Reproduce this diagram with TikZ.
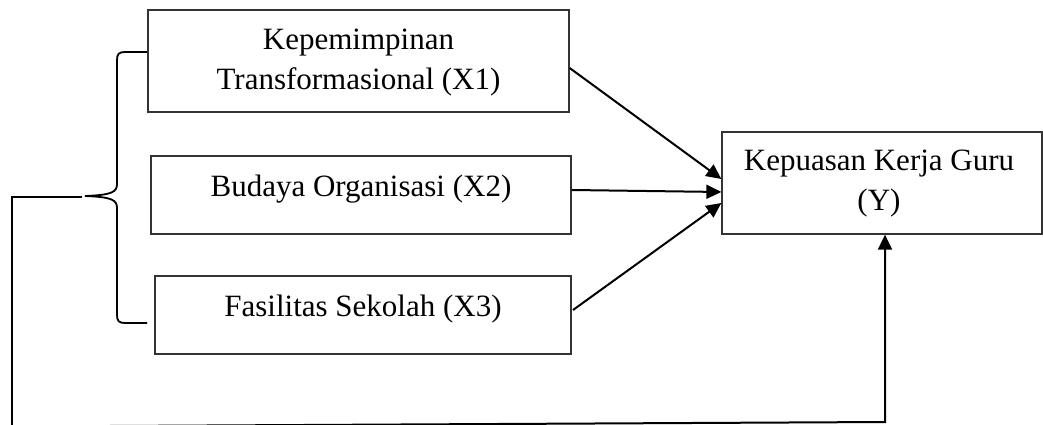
\documentclass[tikz,border=0pt]{standalone}
\usepackage{fontspec}
\setmainfont{Liberation Serif}
\usetikzlibrary{arrows.meta,calc}
\begin{document}
\begin{tikzpicture}[x=1pt,y=-1pt,
  box/.style={draw=black!80,line width=1.3pt,minimum width=#1,inner sep=0pt},
  lbl/.style={anchor=north,inner sep=0pt,align=center,font=\fontsize{31}{40}\selectfont},
  conn/.style={draw=black,line width=2pt},
  arr/.style={conn,-{Triangle[length=15pt,width=14pt]}}]
\useasboundingbox (0,0) rectangle (1043,425);
\clip (0,0) rectangle (1043,425);
% boxes
\node[box=421pt,minimum height=102pt] (x1) at (358.5,61) {};
\node[box=420pt,minimum height=78pt] (x2) at (361,195) {};
\node[box=416pt,minimum height=78pt] (x3) at (363,315) {};
\node[box=320pt,minimum height=102pt] (y) at (882,183) {};
% labels
\node[lbl] (t1) at ($(x1.north)+(0,19)$) {Kepemimpinan\\Transformasional (X1)};
\node[lbl] (t2) at ($(x2.north)+(0,19)$) {Budaya Organisasi (X2)};
\node[lbl] (t3) at ($(x3.north)+(0,19)$) {Fasilitas Sekolah (X3)};
\node[lbl] (ty) at ($(y.north)+(-3,18)$) {Kepuasan Kerja Guru\\(Y)};
% arrows to Y
\draw[arr] (x1.east |- 0,68) -- (y.west |- 0,179);
\draw[arr] (x2.east |- 0,190) -- (y.west |- 0,192);
\draw[arr] (573,310) coordinate (s3) -- (y.west |- 0,203);
% brace
\draw[conn,line width=1.8pt] (147,52) -- (125,52) .. controls (119,52) and (117,54) .. (117,60)
  -- (117,184) .. controls (117,192) and (112,195) .. (85,196)
  .. controls (112,197) and (117,200) .. (117,208)
  -- (117,315) .. controls (117,321) and (119,323) .. (125,323) -- (147,323);
% combined path
\coordinate (tip) at (82,197);
\coordinate (c1) at (12,197);
\coordinate (c2) at (12,426.5);
\coordinate (c3) at (885,422);
\draw[conn] (tip) -- (c1) -- (c2);
\draw[arr] (c2) -- (c3) -- (c3 |- y.south);
\end{tikzpicture}
\end{document}
